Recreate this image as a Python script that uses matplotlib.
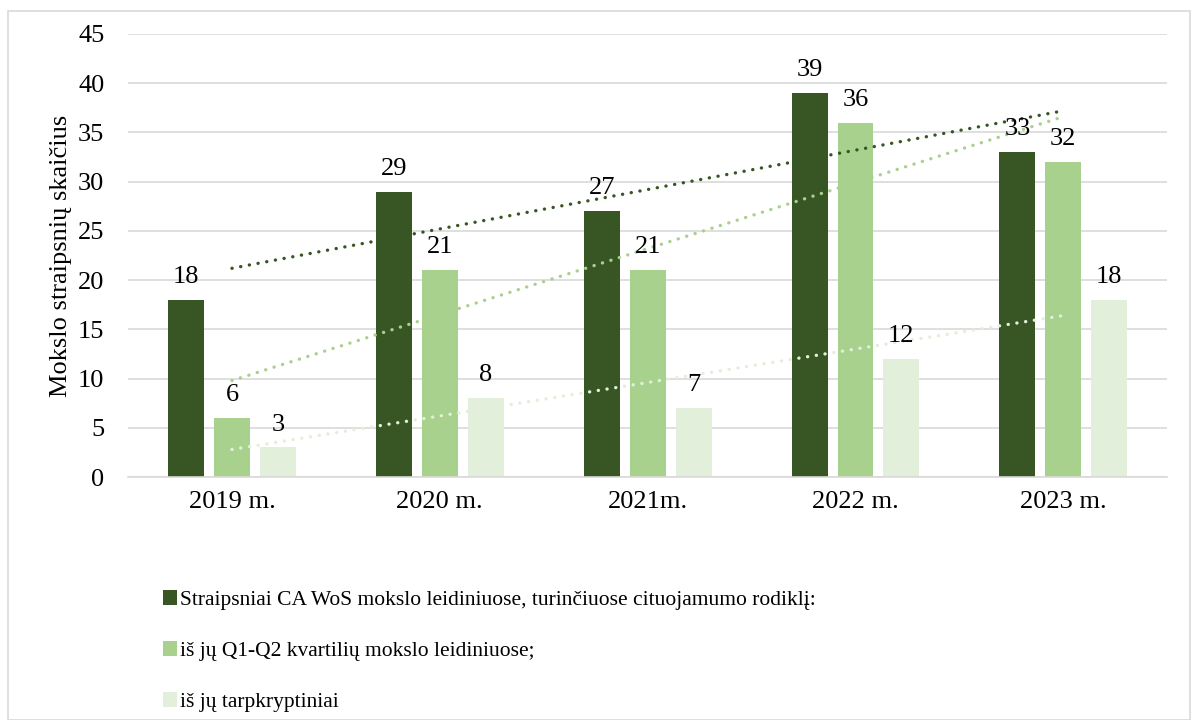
import numpy as np
import matplotlib
matplotlib.use("Agg")
import matplotlib.pyplot as plt
from matplotlib.patches import Rectangle

plt.rcParams['font.family'] = ['Liberation Serif', 'DejaVu Serif']

years = ['2019 m.', '2020 m.', '2021m.', '2022 m.', '2023 m.']
labels = ['Straipsniai CA WoS mokslo leidiniuose, turinčiuose cituojamumo rodiklį:',
          'iš jų Q1-Q2 kvartilių mokslo leidiniuose;',
          'iš jų tarpkryptiniai']
total = [18, 29, 27, 39, 33]
q1q2 = [6, 21, 21, 36, 32]
inter = [3, 8, 7, 12, 18]
colors = ['#375623', '#a9d18e', '#e2efda']
trend_colors = ['#375623', '#a9d18e', '#e2efda']

series = [total, q1q2, inter]

fig = plt.figure(figsize=(12, 7.2), dpi=100)
ax = fig.add_axes([0.1067, 0.3375, 0.866, 0.6153])

x = np.arange(len(years))
w = 0.173
off = 0.221
fs = 19
handles = []
for i, vals in enumerate(series):
    pos = x + (i - 1) * off
    b = ax.bar(pos, vals, w, color=colors[i], label=labels[i], zorder=2)
    handles.append(b)
    for p, v in zip(pos, vals):
        ax.text(p, v + 1.2, str(v), ha='center', va='bottom', fontsize=fs, zorder=5)

# linear trendlines (like Excel)
for i, vals in enumerate(series):
    k, c = np.polyfit(x, vals, 1)
    ax.plot(x, k * x + c, linestyle=(0, (0.05, 2.6)), dash_capstyle='round',
            color=trend_colors[i], lw=2.4, zorder=4)

ax.set_xlim(-0.5, len(years) - 0.5)
ax.set_ylim(0, 45)
ax.set_yticks(range(0, 46, 5))
ax.set_xticks(x)
ax.set_xticklabels(years)
ax.tick_params(axis='both', length=0, labelsize=fs)
ax.tick_params(axis='x', pad=10)
ax.tick_params(axis='y', pad=17)
ax.grid(axis='y', color='#d9d9d9', lw=1.2, zorder=0)
ax.set_axisbelow(True)
for s in ['top', 'right', 'left']:
    ax.spines[s].set_visible(False)
ax.spines['bottom'].set_color('#d9d9d9')
ax.spines['bottom'].set_linewidth(1.2)
ax.set_ylabel('Mokslo straipsnių skaičius', fontsize=fs, labelpad=4)

fig.legend(handles=handles, labels=labels, loc='upper left',
           bbox_to_anchor=(0.1285, 0.192), frameon=False, fontsize=15.5,
           handlelength=0.65, handleheight=0.7, handletextpad=0.15,
           labelspacing=1.42, borderaxespad=0)

fig.patches.append(Rectangle((0.007, 0.0), 0.985, 0.985, transform=fig.transFigure,
                             fill=False, edgecolor='#d9d9d9', lw=1.2))

fig.savefig('out.png', dpi=100)
